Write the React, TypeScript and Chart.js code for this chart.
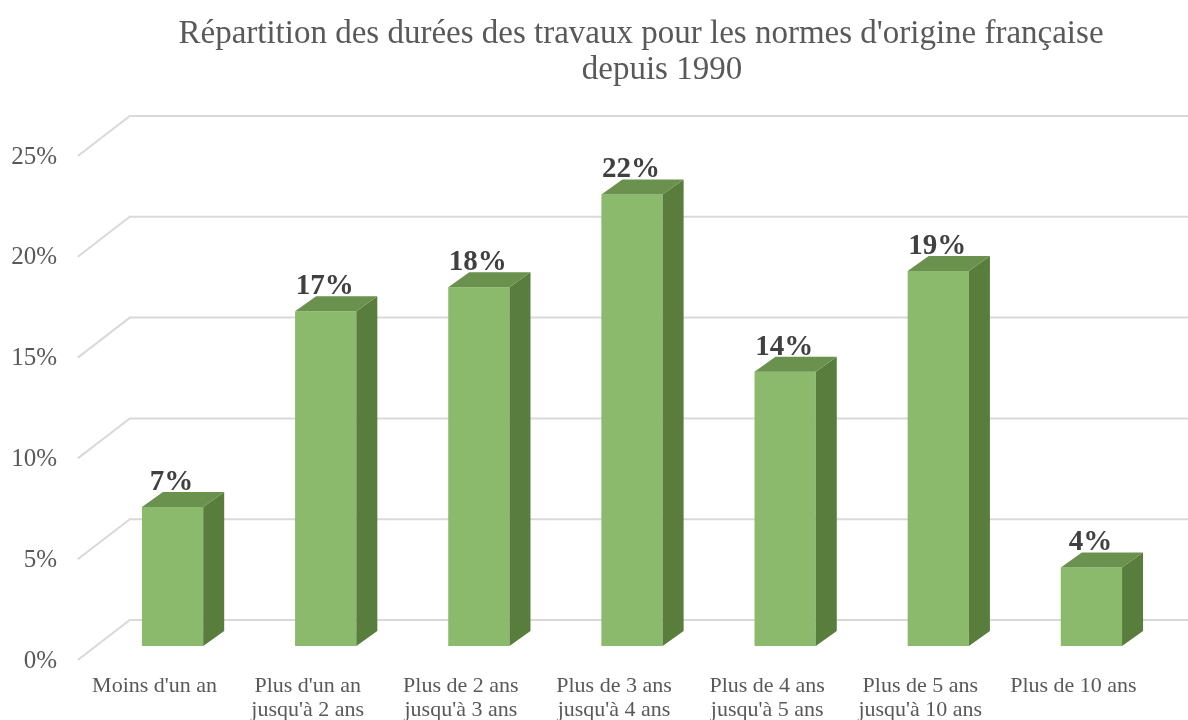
import React, { useEffect, useRef } from 'react';
import { Chart, registerables } from 'chart.js';
Chart.register(...registerables);

const TITLE_LINES = ["Répartition des durées des travaux pour les normes d'origine française", 'depuis 1990'];
const CATEGORIES = [
  ["Moins d'un an"],
  ["Plus d'un an", "jusqu'à 2 ans"],
  ['Plus de 2 ans', "jusqu'à 3 ans"],
  ['Plus de 3 ans', "jusqu'à 4 ans"],
  ['Plus de 4 ans', "jusqu'à 5 ans"],
  ['Plus de 5 ans', "jusqu'à 10 ans"],
  ['Plus de 10 ans'],
];
const VALUES = [6.9, 16.6, 17.8, 22.4, 13.6, 18.6, 3.9];
const Y_TICKS = [0, 5, 10, 15, 20, 25];

const FONT = "'Liberation Serif', 'Times New Roman', serif";
const FRONT = '#8cba6c';
const SIDE = '#587d3d';
const TOP = '#6b914e';
const GRID = '#d9d9d9';
const TEXT = '#595959';

// 3D offsets
const BAR_DX = 21;
const BAR_DY = 15;
const FRONT_DY = 14; // bar plane -> front plane
const BACK_DY = 26; // bar plane -> back plane
const DEPTH_RATIO = 52 / 40;

const threeD = {
  id: 'threeD',
  beforeDatasetsDraw(chart: any) {
    const { ctx, chartArea, scales } = chart;
    const y = scales.y;
    ctx.save();
    ctx.strokeStyle = GRID;
    ctx.lineWidth = 2;
    const fx = chartArea.left - FRONT_DY * DEPTH_RATIO;
    const bx = chartArea.left + BACK_DY * DEPTH_RATIO;
    Y_TICKS.forEach((v) => {
      const py = y.getPixelForValue(v);
      ctx.beginPath();
      ctx.moveTo(fx, py + FRONT_DY);
      ctx.lineTo(bx, py - BACK_DY);
      ctx.lineTo(chart.width, py - BACK_DY);
      ctx.stroke();
    });
    ctx.restore();
  },
  afterDatasetsDraw(chart: any) {
    const { ctx } = chart;
    const meta = chart.getDatasetMeta(0);
    ctx.save();
    meta.data.forEach((bar: any, i: number) => {
      const { x, y, base, width } = bar.getProps(['x', 'y', 'base', 'width'], true);
      const l = x - width / 2;
      const r = x + width / 2;
      // side
      ctx.fillStyle = SIDE;
      ctx.beginPath();
      ctx.moveTo(r, y);
      ctx.lineTo(r + BAR_DX, y - BAR_DY);
      ctx.lineTo(r + BAR_DX, base - BAR_DY);
      ctx.lineTo(r, base);
      ctx.closePath();
      ctx.fill();
      // top
      ctx.fillStyle = TOP;
      ctx.beginPath();
      ctx.moveTo(l, y);
      ctx.lineTo(l + BAR_DX, y - BAR_DY);
      ctx.lineTo(r + BAR_DX, y - BAR_DY);
      ctx.lineTo(r, y);
      ctx.closePath();
      ctx.fill();
      // label
      ctx.fillStyle = '#404040';
      ctx.font = `bold 29px ${FONT}`;
      ctx.textAlign = 'center';
      ctx.textBaseline = 'alphabetic';
      ctx.fillText(Math.round(VALUES[i]) + '%', x - 1, y - 17);
    });
    ctx.restore();
  },
  afterDraw(chart: any) {
    const { ctx } = chart;
    ctx.save();
    ctx.fillStyle = TEXT;
    ctx.font = `33px ${FONT}`;
    ctx.textAlign = 'center';
    ctx.textBaseline = 'alphabetic';
    ctx.fillText(TITLE_LINES[0], 641, 43);
    ctx.fillText(TITLE_LINES[1], 662, 79);
    ctx.restore();
  },
};

export default function App() {
  const ref = useRef<HTMLCanvasElement>(null);
  useEffect(() => {
    document.body.style.margin = '0';
    const chart = new Chart(ref.current!, {
      type: 'bar',
      data: {
        labels: CATEGORIES,
        datasets: [
          {
            data: VALUES,
            backgroundColor: FRONT,
            borderWidth: 0,
            barPercentage: 0.4,
            categoryPercentage: 1,
          },
        ],
      },
      options: {
        animation: false,
        responsive: false,
        layout: { padding: { top: 142, right: 20, left: 0, bottom: 0 } },
        plugins: { legend: { display: false }, title: { display: false }, tooltip: { enabled: false } },
        scales: {
          x: {
            grid: { display: false, drawTicks: false },
            border: { display: false },
            ticks: {
              color: TEXT,
              font: { family: FONT, size: 22, lineHeight: 1.1 },
              padding: 28,
              labelOffset: -18,
              maxRotation: 0,
              autoSkip: false,
            },
            afterFit(scale: any) {
              scale.height = 74;
            },
          },
          y: {
            min: 0,
            max: 25,
            grid: { display: false, drawTicks: false },
            border: { display: false },
            afterBuildTicks(scale: any) {
              scale.ticks = Y_TICKS.map((v) => ({ value: v }));
            },
            ticks: {
              color: TEXT,
              font: { family: FONT, size: 25 },
              padding: 39,
              labelOffset: 15,
              callback: (v: any) => v + '%',
            },
            afterFit(scale: any) {
              scale.width = 96;
            },
          },
        },
      },
      plugins: [threeD],
    });
    return () => chart.destroy();
  }, []);
  return (
    <div style={{ width: 1188, height: 720, background: '#fff' }}>
      <canvas ref={ref} width={1188} height={720} />
    </div>
  );
}
